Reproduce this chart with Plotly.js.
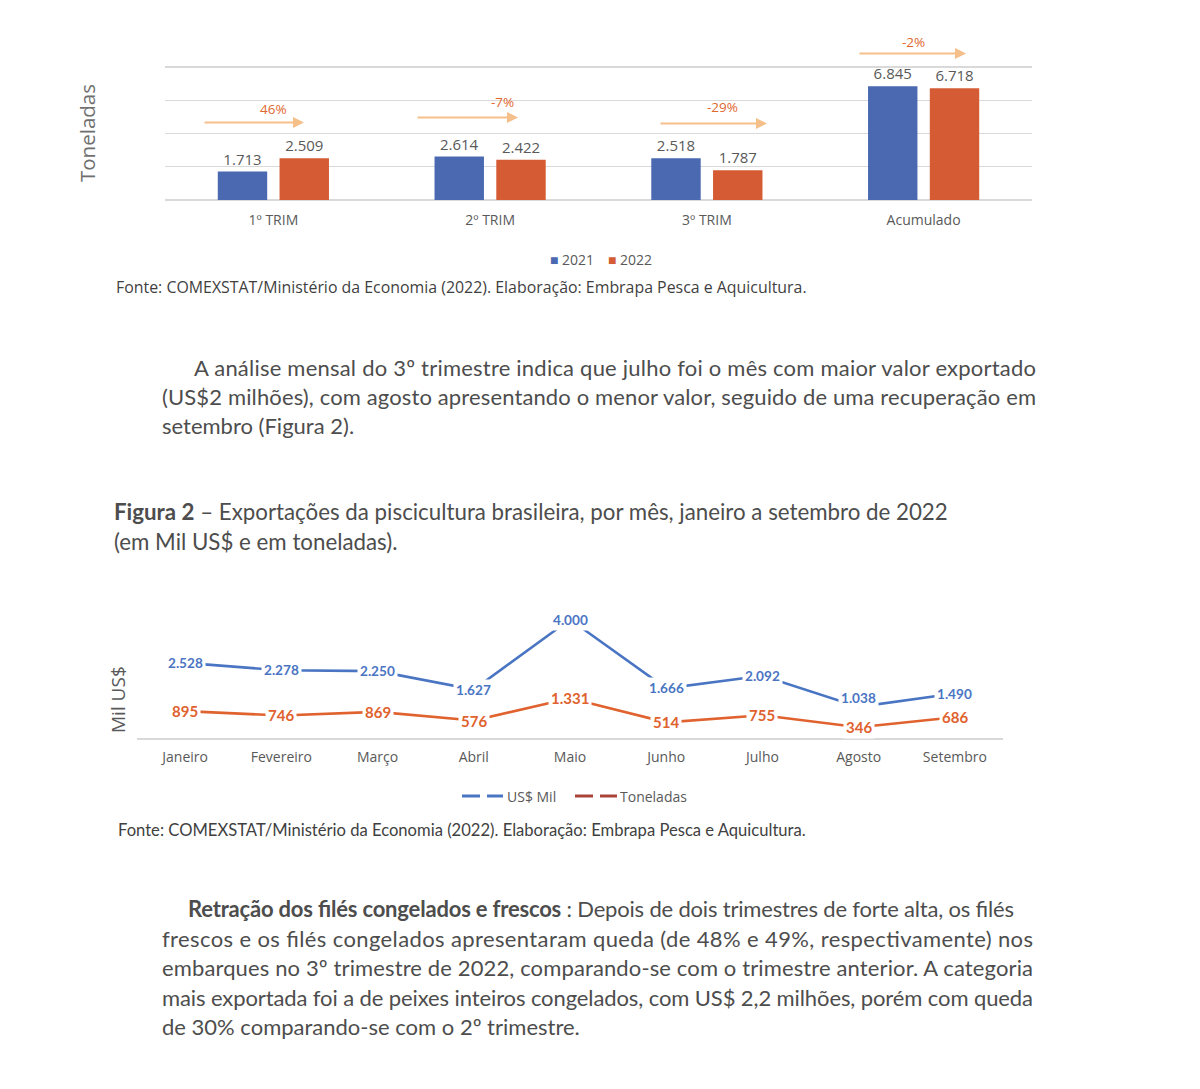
<!DOCTYPE html>
<html>
<head>
<meta charset="utf-8">
<script src="https://cdn.plot.ly/plotly-3.0.1.min.js"></script>
<style>
  html, body { margin: 0; padding: 0; background: #ffffff; }
  #fig { width: 1200px; height: 1089px; }
</style>
</head>
<body>
<div id="fig"></div>
<script>
// ---------------- DATA ----------------
const quarters = ['1º TRIM', '2º TRIM', '3º TRIM', 'Acumulado'];
const tons2021 = [1713, 2614, 2518, 6845];
const tons2022 = [2509, 2422, 1787, 6718];
const changeLabels = ['46%', '-7%', '-29%', '-2%'];
const seriesNames1 = ['2021', '2022'];

const months = ['Janeiro', 'Fevereiro', 'Março', 'Abril', 'Maio', 'Junho', 'Julho', 'Agosto', 'Setembro'];
const usdMil = [2528, 2278, 2250, 1627, 4000, 1666, 2092, 1038, 1490];
const toneladas = [895, 746, 869, 576, 1331, 514, 755, 346, 686];
const seriesNames2 = ['US$ Mil', 'Toneladas'];

const yTitle1 = 'Toneladas';
const yTitle2 = 'Mil US$';
const sourceText = 'Fonte: COMEXSTAT/Ministério da Economia (2022). Elaboração: Embrapa Pesca e Aquicultura.';

const para1 = [
  'A análise mensal do 3º trimestre indica que julho foi o mês com maior valor exportado',
  '(US$2 milhões), com agosto apresentando o menor valor, seguido de uma recuperação em',
  'setembro (Figura 2).'
];
const figTitle = [
  '<b>Figura 2</b> – Exportações da piscicultura brasileira, por mês, janeiro a setembro de 2022',
  '(em Mil US$ e em toneladas).'
];
const para2 = [
  '<b>Retração dos filés congelados e frescos</b> : Depois de dois trimestres de forte alta, os filés',
  'frescos e os filés congelados apresentaram queda (de 48% e 49%, respectivamente) nos',
  'embarques no 3º trimestre de 2022, comparando-se com o trimestre anterior. A categoria',
  'mais exportada foi a de peixes inteiros congelados, com US$ 2,2 milhões, porém com queda',
  'de 30% comparando-se com o 2º trimestre.'
];

// ---------------- STYLE ----------------
const W = 1200, H = 1089;
const px = v => v / W;
const py = v => 1 - v / H;
const fmt = v => String(v).replace(/\B(?=(\d{3})+(?!\d))/g, '.');

const C = {
  bar21: '#4A69B1', bar22: '#D45B33',
  lineUsd: '#4A75C3', lineTon: '#E0622E',
  legTon: '#A8433A',
  arrow: '#F5BF8A', pct: '#E0672F',
  label: '#595959', axis: '#595959', grid: '#D9D9D9',
  text: '#4D4D4D', src: '#3F3F3F'
};
const chartFont = 'Open Sans, Noto Sans, sans-serif';
const textFont = 'Lato, Noto Sans, sans-serif';

// arrow geometry (pixels): [x start, x end(tip), y, label x, label y]
const arrowGeo = [
  [203, 304, 122.5, 273, 109],
  [416, 518, 117.5, 502, 102],
  [659, 767, 123.5, 722, 107],
  [858, 966, 53.5, 913, 42.5]
];
const usdLabelShift = [0, 0, 0, 0, 0, 0, 0, 9, 0];

// ---------------- TRACES ----------------
const traces = [
  {
    type: 'bar', name: seriesNames1[0], x: quarters, y: tons2021,
    xaxis: 'x', yaxis: 'y',
    marker: { color: C.bar21 },
    text: tons2021.map(fmt), textposition: 'outside', constraintext: 'none',
    textfont: { family: chartFont, size: 15, color: C.label },
    cliponaxis: false, showlegend: false, hoverinfo: 'x+y'
  },
  {
    type: 'bar', name: seriesNames1[1], x: quarters, y: tons2022,
    xaxis: 'x', yaxis: 'y',
    marker: { color: C.bar22 },
    text: tons2022.map(fmt), textposition: 'outside', constraintext: 'none',
    textfont: { family: chartFont, size: 15, color: C.label },
    cliponaxis: false, showlegend: false, hoverinfo: 'x+y'
  },
  {
    type: 'scatter', mode: 'lines', name: seriesNames2[0], x: months, y: usdMil,
    xaxis: 'x2', yaxis: 'y2',
    line: { color: C.lineUsd, width: 2.6 }, cliponaxis: false, showlegend: false
  },
  {
    type: 'scatter', mode: 'lines', name: seriesNames2[1], x: months, y: toneladas,
    xaxis: 'x2', yaxis: 'y2',
    line: { color: C.lineTon, width: 2.6 }, cliponaxis: false, showlegend: false
  }
];

// ---------------- ANNOTATIONS ----------------
const ann = [];
const justify = []; // [annotation index, target width px]
const txt = (text, x, y, size, color, family, xanchor, extra) => Object.assign({
  text, x: px(x), y: py(y), xref: 'paper', yref: 'paper',
  xanchor: xanchor || 'left', yanchor: 'middle', showarrow: false, borderpad: 0,
  font: { family: family || textFont, size, color }
}, extra || {});

// change arrows + labels
changeLabels.forEach((lab, i) => {
  const g = arrowGeo[i];
  ann.push({
    text: '', x: px(g[1]), y: py(g[2]), xref: 'paper', yref: 'paper',
    showarrow: true, ax: g[0] - g[1], ay: 0, axref: 'pixel', ayref: 'pixel',
    arrowhead: 2, arrowsize: 1.1, arrowwidth: 2, arrowcolor: C.arrow, standoff: 0
  });
  ann.push(txt(lab, g[3], g[4], 13.5, C.pct, chartFont, 'center'));
});

// y titles
ann.push(txt(yTitle1, 87, 133, 20.5, '#6F6F6F', chartFont, 'center', { textangle: -90 }));
ann.push(txt(yTitle2, 118, 700, 19, '#595959', chartFont, 'center', { textangle: -90 }));

// legend chart 1 (excel-like small squares)
ann.push(txt('<span style="color:' + C.bar21 + '">■</span> ' + seriesNames1[0], 549, 259, 14, C.label, chartFont, 'left'));
ann.push(txt('<span style="color:' + C.bar22 + '">■</span> ' + seriesNames1[1], 607, 259, 14, C.label, chartFont, 'left'));

// data labels chart 2 (white box hides the line under each label)
usdMil.forEach((v, i) => ann.push({
  text: '<b>' + fmt(v) + '</b>', x: months[i], y: v, xref: 'x2', yref: 'y2',
  showarrow: false, yshift: usdLabelShift[i], bgcolor: '#ffffff', borderpad: 2,
  font: { family: textFont, size: 13.6, color: C.lineUsd }
}));
toneladas.forEach((v, i) => ann.push({
  text: '<b>' + fmt(v) + '</b>', x: months[i], y: v, xref: 'x2', yref: 'y2',
  showarrow: false, bgcolor: '#ffffff', borderpad: 2,
  font: { family: textFont, size: 15, color: C.lineTon }
}));

// legend chart 2 text
ann.push(txt(seriesNames2[0], 506, 796, 14, C.label, chartFont, 'left'));
ann.push(txt(seriesNames2[1], 619, 796, 14, C.label, chartFont, 'left'));

// source lines
ann.push(txt(sourceText, 115, 287, 15.9, C.src, chartFont, 'left'));
ann.push(txt(sourceText, 117, 830, 16.6, C.src, textFont, 'left'));

// paragraphs
const addLine = (l, x, y, size, target) => {
  if (target) justify.push([ann.length, target]);
  ann.push(txt(l, x, y, size, C.text, textFont, 'left', { align: 'left' }));
};
const p1y = [367, 396, 425], p1x = [193, 161, 161], p1w = [842, 874, 0];
para1.forEach((l, i) => addLine(l, p1x[i], p1y[i], 22, p1w[i]));
const fty = [511, 541];
figTitle.forEach((l, i) => addLine(l, 113, fty[i], 22.3, 0));
const p2y = [908, 938, 967, 997, 1026], p2x = [187, 161, 161, 161, 161], p2w = [826, 871, 871, 871, 0];
para2.forEach((l, i) => addLine(l, p2x[i], p2y[i], 22, p2w[i]));

// ---------------- SHAPES (legend keys chart 2) ----------------
const seg = (x0, x1, y, color) => ({
  type: 'line', xref: 'paper', yref: 'paper', x0: px(x0), x1: px(x1), y0: py(y), y1: py(y),
  line: { color, width: 3 }
});
const shapes = [
  seg(462, 480, 796, C.lineUsd), seg(487, 503, 796, C.lineUsd),
  seg(575, 593, 796, C.legTon), seg(600, 617, 796, C.legTon)
];

// ---------------- LAYOUT ----------------
const layout = {
  width: W, height: H,
  margin: { l: 0, r: 0, t: 0, b: 0, pad: 0 },
  paper_bgcolor: '#ffffff', plot_bgcolor: '#ffffff',
  showlegend: false,
  barmode: 'group', bargap: 0.43, bargroupgap: 0.2,
  xaxis: {
    domain: [px(165), px(1032)], anchor: 'y', type: 'category', range: [-0.5, 3.5],
    showgrid: false, showline: false, ticks: '', ticklabelstandoff: 10,
    tickfont: { family: chartFont, size: 14, color: C.axis }, fixedrange: true
  },
  yaxis: {
    domain: [py(200), py(65.34)], anchor: 'x', range: [0, 8100], tickvals: [0, 2000, 4000, 6000, 8000],
    showticklabels: false, ticks: '', showgrid: true, gridcolor: C.grid, gridwidth: 1.4,
    zeroline: true, zerolinecolor: C.grid, zerolinewidth: 1.4, fixedrange: true
  },
  xaxis2: {
    domain: [px(137), px(1003)], anchor: 'y2', type: 'category', range: [-0.5, 8.5],
    showgrid: false, showline: true, linecolor: C.grid, linewidth: 2, ticks: '',
    ticklabelstandoff: 6,
    tickfont: { family: chartFont, size: 14, color: C.axis }, fixedrange: true
  },
  yaxis2: {
    domain: [py(737.5), py(604.75)], anchor: 'x2', range: [0, 4500],
    showticklabels: false, ticks: '', showgrid: false, zeroline: false, fixedrange: true
  },
  annotations: ann,
  shapes: shapes
};

Plotly.newPlot('fig', traces, layout, { displayModeBar: false, staticPlot: true }).then(gd => {
  // justify full paragraph lines like the source document
  justify.forEach(([idx, target]) => {
    const el = document.querySelector('g.annotation[data-index="' + idx + '"] text.annotation-text');
    if (!el) return;
    const w = el.getComputedTextLength();
    if (w > 0 && Math.abs(w - target) < 0.12 * target) {
      el.setAttribute('textLength', target);
      el.setAttribute('lengthAdjust', 'spacing');
    }
  });
});
</script>
</body>
</html>
